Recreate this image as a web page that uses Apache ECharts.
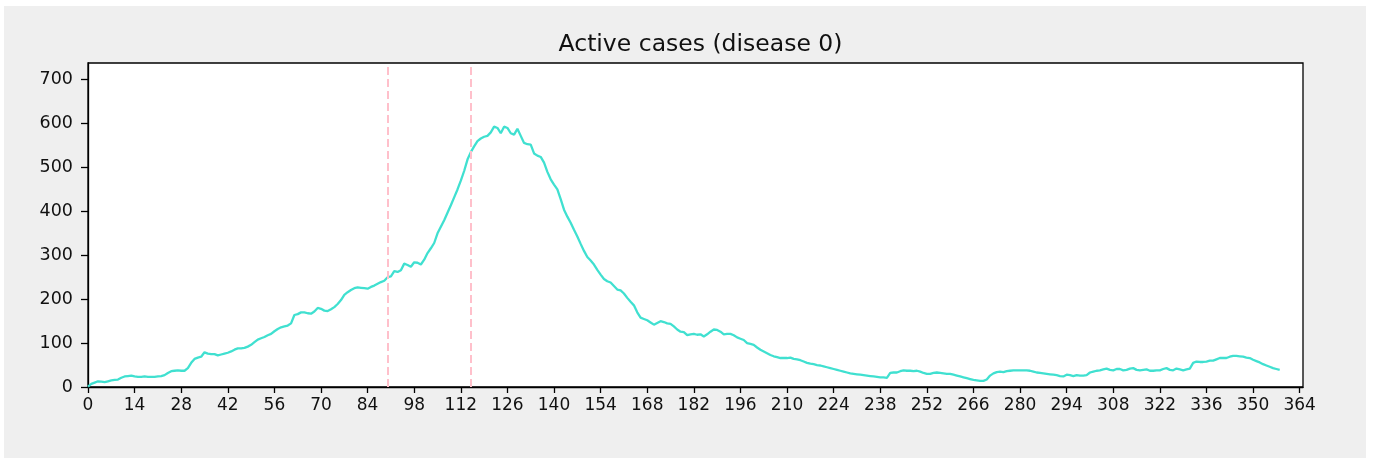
<!DOCTYPE html>
<html>
<head>
    <meta charset="utf-8">
    <title>Active cases (disease 0)</title>
    <style>
        body { margin: 0; background: #ffffff; }
        .figBg {
            position: absolute;
            left: 4px; top: 6px;
            width: 1362px; height: 452px;
            background-color: #efefef;
        }
        #chartBox {
            position: absolute;
            left: 0; top: 0;
            width: 1373px; height: 461px;
        }
    </style>
</head>
<body>
    <div class="figBg"></div>
    <div id="chartBox"></div>

    <script src="https://cdn.jsdelivr.net/npm/echarts@6/dist/echarts.min.js"></script>
    <script>
        // active cases per day (day 0 .. 358)
        var activeCases = [
            1, 7, 10, 13, 12, 11, 13, 15, 16, 17,
            21, 24, 25, 26, 24, 23, 23, 24, 23, 23,
            23, 24, 25, 27, 32, 36, 37, 38, 37, 37,
            43, 55, 64, 67, 69, 79, 76, 75, 75, 72,
            74, 76, 78, 81, 85, 88, 88, 89, 92, 96,
            102, 108, 111, 114, 118, 121, 127, 132, 136, 138,
            140, 145, 164, 166, 170, 170, 168, 167, 172, 180,
            178, 174, 173, 177, 182, 189, 198, 210, 216, 221,
            225, 227, 226, 225, 224, 228, 231, 235, 239, 242,
            250, 252, 264, 262, 266, 281, 278, 274, 284, 283,
            279, 290, 305, 316, 328, 350, 365, 380, 397, 414,
            432, 450, 470, 492, 518, 535, 548, 560, 566, 570,
            572, 580, 593, 590, 578, 593, 590, 578, 575, 588,
            572, 556, 553, 552, 532, 527, 524, 511, 490, 473,
            461, 450, 428, 404, 388, 374, 358, 343, 326, 310,
            296, 288, 279, 267, 256, 246, 241, 238, 230, 222,
            220, 213, 203, 194, 186, 170, 158, 155, 152, 147,
            142, 146, 150, 148, 145, 144, 138, 131, 126, 125,
            118, 120, 121, 119, 120, 115, 120, 126, 131, 130,
            126, 120, 121, 121, 118, 113, 110, 107, 100, 98,
            96, 90, 85, 81, 77, 73, 70, 68, 66, 66,
            66, 67, 64, 63, 61, 58, 55, 53, 52, 50,
            49, 47, 45, 43, 41, 39, 37, 35, 33, 31,
            30, 29, 28, 27, 26, 25, 24, 23, 22, 22,
            21, 32, 33, 33, 36, 38, 37, 37, 36, 37,
            35, 32, 30, 30, 32, 33, 32, 31, 30, 30,
            28, 26, 24, 22, 20, 18, 16, 15, 14, 14,
            17, 26, 31, 34, 35, 34, 36, 37, 38, 38,
            38, 38, 38, 37, 35, 33, 32, 31, 30, 29,
            28, 27, 25, 24, 28, 27, 25, 27, 26, 26,
            27, 33, 35, 37, 38, 40, 42, 39, 38, 41,
            41, 38, 39, 42, 43, 39, 38, 39, 40, 37,
            37, 38, 38, 41, 43, 39, 38, 42, 40, 38,
            40, 42, 55, 58, 57, 57, 58, 60, 60, 63,
            66, 66, 66, 69, 71, 71, 70, 69, 67, 66,
            62, 59, 56, 52, 49, 46, 43, 41, 39
        ];
        // dashed markers (days)
        var markerDays = [90, 115];
        // tick labels
        var xTicks = [0, 14, 28, 42, 56, 70, 84, 98, 112, 126, 140, 154, 168, 182,
            196, 210, 224, 238, 252, 266, 280, 294, 308, 322, 336, 350, 364];
        var yTicks = [0, 100, 200, 300, 400, 500, 600, 700];

        var lineData = activeCases.map(function (v, i) { return [i, v]; });

        var chart = echarts.init(document.getElementById('chartBox'));
        var fontName = 'DejaVu Sans';

        var option = {
            backgroundColor: 'transparent',
            animation: false,
            title: {
                text: 'Active cases (disease 0)',
                left: 695.5,
                top: 28,
                textAlign: 'center',
                textStyle: { fontFamily: fontName, fontSize: 23.5, fontWeight: 'normal', color: '#111' }
            },
            grid: {
                left: 88, top: 63, width: 1215, height: 324,
                show: true,
                backgroundColor: '#ffffff',
                borderColor: '#000',
                borderWidth: 1.3
            },
            xAxis: {
                type: 'value',
                min: 0, max: 365,
                interval: 14,
                axisLine: { lineStyle: { color: '#000', width: 1.3 } },
                axisTick: { show: true, length: 6, customValues: xTicks, lineStyle: { color: '#000', width: 1.3 } },
                axisLabel: {
                    customValues: xTicks,
                    margin: 10,
                    fontFamily: fontName, fontSize: 17, color: '#111'
                },
                splitLine: { show: false }
            },
            yAxis: {
                type: 'value',
                min: 0, max: 738,
                interval: 100,
                axisLine: { show: true, lineStyle: { color: '#000', width: 1.3 } },
                axisTick: { show: true, length: 7, customValues: yTicks, lineStyle: { color: '#000', width: 1.3 } },
                axisLabel: {
                    customValues: yTicks,
                    margin: 15,
                    fontFamily: fontName, fontSize: 17.5, color: '#111'
                },
                splitLine: { show: false }
            },
            series: [{
                type: 'line',
                data: lineData,
                showSymbol: false,
                lineStyle: { color: '#40e0d0', width: 2.3 },
                markLine: {
                    silent: true,
                    symbol: ['none', 'none'],
                    label: { show: false },
                    lineStyle: { color: '#ffc0cb', type: [8, 4], width: 2 },
                    data: markerDays.map(function (d) { return { xAxis: d }; })
                }
            }]
        };
        chart.setOption(option);
    </script>
</body>
</html>
